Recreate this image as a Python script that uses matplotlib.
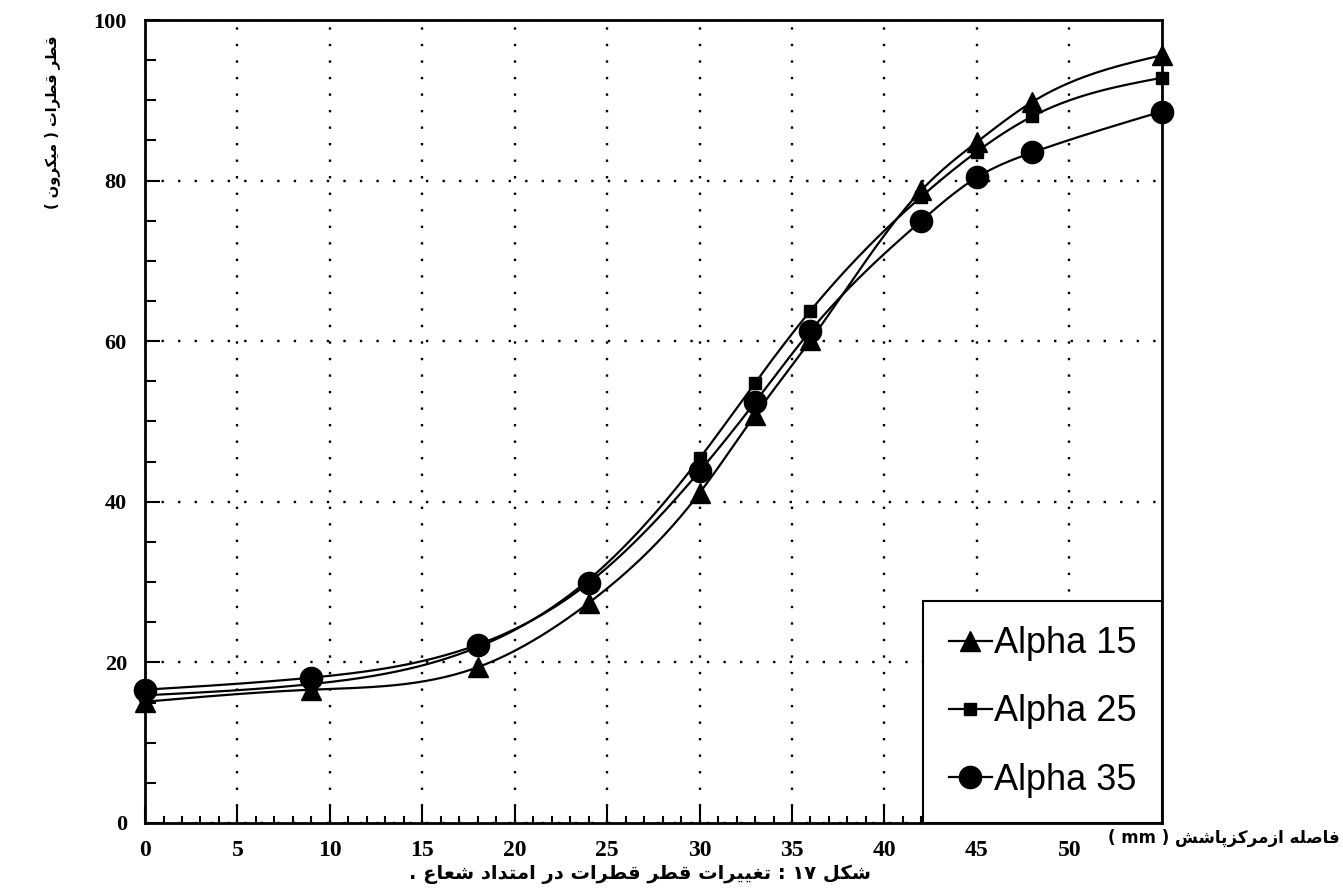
import numpy as np
import matplotlib
matplotlib.use("Agg")
import matplotlib.pyplot as plt
from matplotlib.ticker import MultipleLocator
from matplotlib.lines import Line2D

# ---------------- data ----------------
x_pos = [0, 9, 18, 24, 30, 33, 36, 42, 45, 48, 55]
alpha15 = [15.1, 16.6, 19.4, 27.4, 41.1, 50.8, 60.1, 78.8, 84.8, 89.8, 95.6]
alpha25 = [15.9, 17.3, 21.9, 30.3, 45.4, 54.8, 63.8, 78.0, 83.6, 88.0, 92.8]
alpha35 = [16.6, 18.1, 22.2, 29.9, 43.8, 52.4, 61.3, 75.0, 80.4, 83.5, 88.6]
series_labels = ["Alpha 15", "Alpha 25", "Alpha 35"]
x_ticks = [0, 5, 10, 15, 20, 25, 30, 35, 40, 45, 50]
y_ticks = [0, 20, 40, 60, 80, 100]

xlabel_fa = "فاصله ازمرکزپاشش ( mm )"
ylabel_fa = "قطر قطرات ( میکرون )"
caption_fa = "شکل ۱۷ : تغییرات قطر قطرات در امتداد شعاع ."

# ---------------- Persian shaping (matplotlib has no complex shaping) ----------------
FORMS = {
    'ا': (0xFE8D, 0xFE8E, None, None),
    'پ': (0xFB56, 0xFB57, 0xFB58, 0xFB59),
    'ت': (0xFE95, 0xFE96, 0xFE97, 0xFE98),
    'د': (0xFEA9, 0xFEAA, None, None),
    'ر': (0xFEAD, 0xFEAE, None, None),
    'ز': (0xFEAF, 0xFEB0, None, None),
    'ش': (0xFEB5, 0xFEB6, 0xFEB7, 0xFEB8),
    'ص': (0xFEB9, 0xFEBA, 0xFEBB, 0xFEBC),
    'ط': (0xFEC1, 0xFEC2, 0xFEC3, 0xFEC4),
    'ع': (0xFEC9, 0xFECA, 0xFECB, 0xFECC),
    'غ': (0xFECD, 0xFECE, 0xFECF, 0xFED0),
    'ف': (0xFED1, 0xFED2, 0xFED3, 0xFED4),
    'ق': (0xFED5, 0xFED6, 0xFED7, 0xFED8),
    'ک': (0xFB8E, 0xFB8F, 0xFB90, 0xFB91),
    'ل': (0xFEDD, 0xFEDE, 0xFEDF, 0xFEE0),
    'م': (0xFEE1, 0xFEE2, 0xFEE3, 0xFEE4),
    'ن': (0xFEE5, 0xFEE6, 0xFEE7, 0xFEE8),
    'ه': (0xFEE9, 0xFEEA, 0xFEEB, 0xFEEC),
    'و': (0xFEED, 0xFEEE, None, None),
    'ی': (0xFBFC, 0xFBFD, 0xFBFE, 0xFBFF),
}


def shape_fa(text):
    out = []
    n = len(text)
    for i, ch in enumerate(text):
        if ch not in FORMS:
            out.append(ch)
            continue
        prev = text[i - 1] if i > 0 else ''
        nxt = text[i + 1] if i < n - 1 else ''
        pj = prev in FORMS and FORMS[prev][2] is not None
        nj = FORMS[ch][2] is not None and nxt in FORMS
        iso, fin, ini, med = FORMS[ch]
        if pj and nj:
            out.append(chr(med))
        elif pj:
            out.append(chr(fin))
        elif nj:
            out.append(chr(ini))
        else:
            out.append(chr(iso))
    s = ''.join(out)[::-1]
    mirror = {'(': ')', ')': '('}
    s = ''.join(mirror.get(c, c) for c in s)
    res, run = [], []

    def is_ltr(c):
        return (c.isascii() and c.isalnum()) or ('۰' <= c <= '۹')
    for c in s:
        if is_ltr(c):
            run.append(c)
        else:
            if run:
                res.append(''.join(run[::-1]))
                run = []
            res.append(c)
    if run:
        res.append(''.join(run[::-1]))
    return ''.join(res)


def nat_spline(x, y, xs):
    x = np.asarray(x, float)
    y = np.asarray(y, float)
    n = len(x)
    h = np.diff(x)
    A = np.zeros((n, n))
    b = np.zeros(n)
    A[0, 0] = 1
    A[-1, -1] = 1
    for i in range(1, n - 1):
        A[i, i - 1] = h[i - 1]
        A[i, i] = 2 * (h[i - 1] + h[i])
        A[i, i + 1] = h[i]
        b[i] = 3 * ((y[i + 1] - y[i]) / h[i] - (y[i] - y[i - 1]) / h[i - 1])
    c = np.linalg.solve(A, b)
    bb = np.zeros(n - 1)
    d = np.zeros(n - 1)
    for i in range(n - 1):
        bb[i] = (y[i + 1] - y[i]) / h[i] - h[i] * (2 * c[i] + c[i + 1]) / 3
        d[i] = (c[i + 1] - c[i]) / (3 * h[i])
    idx = np.clip(np.searchsorted(x, xs) - 1, 0, n - 2)
    dx = xs - x[idx]
    return y[idx] + bb[idx] * dx + c[idx] * dx ** 2 + d[idx] * dx ** 3


# ---------------- figure ----------------
fig = plt.figure(figsize=(13.43, 8.93), dpi=100)
ax = fig.add_axes([0.108, 0.0784, 0.757, 0.8992])

markers = ['^', 's', 'o']
msizes = [15, 9, 16]
series = [alpha15, alpha25, alpha35]
xs = np.linspace(x_pos[0], x_pos[-1], 400)
for ys, mk, ms in zip(series, markers, msizes):
    ax.plot(xs, nat_spline(x_pos, ys, xs), color='black', lw=1.6, zorder=3)
    ax.plot(x_pos, ys, linestyle='none', marker=mk, ms=ms, color='black',
            zorder=4, clip_on=False)

ax.set_xlim(0, 55)
ax.set_ylim(0, 100)
ax.set_xticks(x_ticks)
ax.set_yticks(y_ticks)
ax.xaxis.set_minor_locator(MultipleLocator(1))
ax.yaxis.set_minor_locator(MultipleLocator(5))
ax.tick_params(axis='both', which='both', direction='in', color='black',
               top=False, right=False)
ax.tick_params(axis='x', which='major', length=12, width=1.5, pad=12)
ax.tick_params(axis='x', which='minor', length=5, width=1.5)
ax.tick_params(axis='y', which='major', length=11, width=1.5, pad=13)
ax.tick_params(axis='y', which='minor', length=8, width=1.5)
for lab in ax.get_yticklabels():
    lab.set_fontfamily('Liberation Serif')
    lab.set_fontweight('bold')
    lab.set_fontsize(16)
for lab in ax.get_xticklabels():
    lab.set_fontfamily('Liberation Serif')
    lab.set_fontweight('bold')
    lab.set_fontsize(17)

ax.grid(True, which='major', color='black', linestyle=(0, (1, 6)), lw=1.7)
for s in ax.spines.values():
    s.set_linewidth(2)
    s.set_color('black')

handles = [Line2D([0], [0], color='black', lw=1.6, marker=m, ms=ms)
           for m, ms in zip(markers, msizes)]
leg = ax.legend(handles, series_labels, loc='lower right', borderaxespad=0,
                frameon=True, fancybox=False, edgecolor='black',
                prop={'family': 'Liberation Sans', 'size': 26},
                handlelength=1.2, handletextpad=0.05, labelspacing=0.92,
                borderpad=0.7)
leg.get_frame().set_linewidth(1.5)
leg.get_frame().set_alpha(1)

fa_font = ['DejaVu Sans']
fig.text(1108 / 1343, 1 - 838 / 893, shape_fa(xlabel_fa), ha='left', va='center',
         fontsize=12, fontweight='bold', family=fa_font)
fig.text(52 / 1343, 1 - 122 / 893, shape_fa(ylabel_fa), ha='center', va='center',
         rotation=90, fontsize=10.5, fontweight='bold', family=fa_font)
fig.text(640 / 1343, 1 - 874 / 893, shape_fa(caption_fa), ha='center', va='center',
         fontsize=14, fontweight='bold', family=fa_font)

fig.savefig('out.png', dpi=100)
